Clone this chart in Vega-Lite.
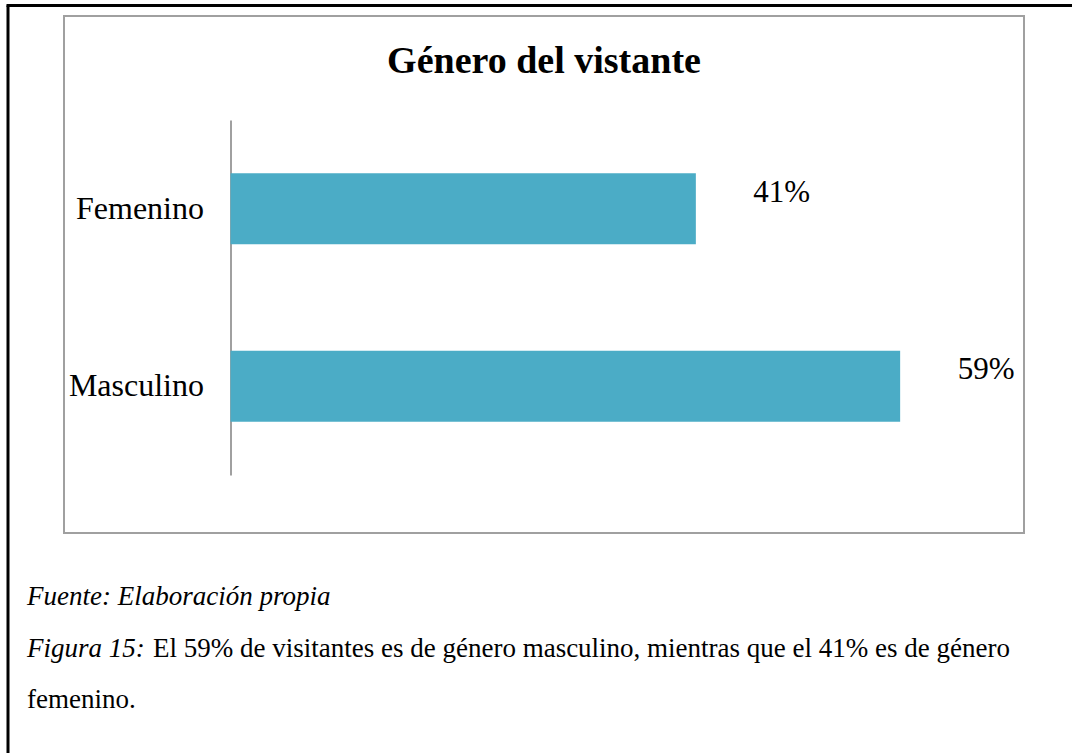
{
  "$schema": "https://vega.github.io/schema/vega-lite/v6.json",
  "width": 960,
  "height": 517,
  "autosize": {"type": "none"},
  "padding": {"left": 64, "top": 16, "right": 48, "bottom": 220},
  "background": "white",
  "config": {
    "view": {"stroke": "#a0a0a0", "strokeWidth": 2},
    "font": "Liberation Serif"
  },
  "title": {
    "text": "Género del vistante",
    "font": "Liberation Serif",
    "fontSize": 38,
    "fontWeight": "bold",
    "color": "black",
    "anchor": "middle",
    "frame": "group",
    "baseline": "alphabetic",
    "offset": -56,
    "dy": 50
  },
  "datasets": {
    "generos": [
      {"genero": "Femenino", "proporcion": 0.41},
      {"genero": "Masculino", "proporcion": 0.59}
    ],
    "nota": [
      {"linea": 1, "parte": "referencia", "texto": "Fuente: Elaboración propia"},
      {"linea": 2, "parte": "referencia", "texto": "Figura 15:"},
      {"linea": 2, "parte": "continuacion", "texto": "El 59% de visitantes es de género masculino, mientras que el 41% es de género"},
      {"linea": 3, "parte": "cierre", "texto": "femenino."}
    ]
  },
  "layer": [
    {
      "data": {"name": "generos"},
      "layer": [
        {
          "mark": {"type": "bar", "color": "#4BACC6"},
          "encoding": {
            "y": {
              "field": "genero",
              "type": "nominal",
              "sort": null,
              "scale": {"domain": ["Femenino", "Masculino"], "range": [104, 459], "paddingInner": 0.6, "paddingOuter": 0.3},
              "axis": {
                "orient": "left",
                "offset": -166.5,
                "title": null,
                "ticks": false,
                "grid": false,
                "domainColor": "#a0a0a0",
                "domainWidth": 2,
                "labelPadding": 27,
                "labelFont": "Liberation Serif",
                "labelFontSize": 32,
                "labelColor": "black",
                "labelLimit": 0
              }
            },
            "x": {
              "field": "proporcion",
              "type": "quantitative",
              "scale": {"domain": [-0.1978, 0.74846], "range": [-58, 1016], "zero": false, "nice": false},
              "axis": {
                "orient": "top",
                "offset": 11,
                "title": null,
                "labels": false,
                "ticks": false,
                "grid": false,
                "domainColor": "black",
                "domainWidth": 3
              }
            },
            "x2": {"datum": 0}
          }
        },
        {
          "mark": {"type": "text", "align": "left", "baseline": "alphabetic", "dx": 57.5, "dy": -7, "font": "Liberation Serif", "fontSize": 31, "color": "black"},
          "encoding": {
            "y": {"field": "genero", "type": "nominal", "sort": null},
            "x": {"field": "proporcion", "type": "quantitative"},
            "text": {"field": "proporcion", "type": "quantitative", "format": ".0%"}
          }
        }
      ]
    },
    {
      "data": {"name": "nota"},
      "layer": [
        {
          "transform": [{"filter": "datum.parte == 'referencia'"}],
          "mark": {"type": "text", "align": "left", "baseline": "alphabetic", "dx": -37, "font": "Liberation Serif", "fontSize": 27, "fontStyle": "italic", "color": "black"},
          "encoding": {
            "x": {"value": 0},
            "y": {
              "field": "linea",
              "type": "quantitative",
              "scale": {"domain": [-10.65, 4.029], "range": [-11, 745], "zero": false, "nice": false},
              "axis": {
                "orient": "left",
                "offset": 56.5,
                "title": null,
                "labels": false,
                "ticks": false,
                "grid": false,
                "domainColor": "black",
                "domainWidth": 3
              }
            },
            "text": {"field": "texto", "type": "nominal"}
          }
        },
        {
          "transform": [{"filter": "datum.parte == 'continuacion'"}],
          "mark": {"type": "text", "align": "left", "baseline": "alphabetic", "dx": 89, "font": "Liberation Serif", "fontSize": 27, "color": "black"},
          "encoding": {
            "x": {"value": 0},
            "y": {"field": "linea", "type": "quantitative"},
            "text": {"field": "texto", "type": "nominal"}
          }
        },
        {
          "transform": [{"filter": "datum.parte == 'cierre'"}],
          "mark": {"type": "text", "align": "left", "baseline": "alphabetic", "dx": -37, "font": "Liberation Serif", "fontSize": 27, "color": "black"},
          "encoding": {
            "x": {"value": 0},
            "y": {"field": "linea", "type": "quantitative"},
            "text": {"field": "texto", "type": "nominal"}
          }
        }
      ]
    }
  ],
  "resolve": {"scale": {"y": "independent"}, "axis": {"y": "independent"}}
}
